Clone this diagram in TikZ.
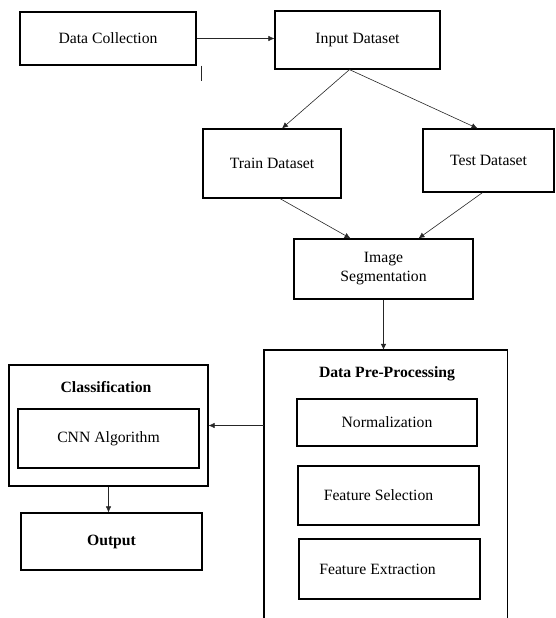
\documentclass[tikz,border=0pt]{standalone}
\usepackage{fontspec}
\setmainfont{Liberation Serif}
\usepackage{tikz}
\usetikzlibrary{calc, arrows.meta}

\tikzset{
  box/.style={draw, line width=1.2pt, inner sep=2pt},
  arr/.style={-{Latex[length=6pt,width=5.5pt]}, line width=0.6pt, draw=black!85},
  ln/.style={line width=0.6pt, draw=black!85}
}

\begin{document}
\begin{tikzpicture}[x=1pt, y=-1pt, font=\fontsize{15.7}{19}\selectfont]
\useasboundingbox (0,0) rectangle (555,618);
% top row
\node [box, minimum width=176, minimum height=53] (collect) at (108,38.5) {Data Collection};
\node [box, minimum width=165, minimum height=58] (input) at (357.5,40) {Input Dataset};
\draw [arr] (collect.east) -- (collect.east -| input.west);
\draw [ln] ([xshift=5]collect.south east) -- ++(0,15);
% split
\node [box, minimum width=138, minimum height=69] (train) at (272,163.5) {Train Dataset};
\node [box, minimum width=131, minimum height=63] (test) at (488.5,160.5) {Test Dataset};
\draw [arr] ([xshift=-8]input.south) -- ([xshift=10]train.north);
\draw [arr] ([xshift=-8]input.south) -- ([xshift=-11]test.north);
% segmentation
\node [box, minimum width=179, minimum height=60, align=center] (seg) at (383.5,269) {Image\\Segmentation};
\draw [arr] ([xshift=8]train.south) -- ([xshift=-33]seg.north);
\draw [arr] ([xshift=-6]test.south) -- ([xshift=35]seg.north);
% pre-processing
\node [minimum width=243, minimum height=280] (prep) at (385.5,490) {};
\draw [line width=1.4pt] (prep.south west) -- (prep.north west) -- (prep.north east) -- (prep.south east);
\node [font=\fontsize{15.7}{19}\selectfont\bfseries] (preptitle) at (387,374) {Data Pre-Processing};
\draw [arr] (seg.south) -- (seg.south |- prep.north);
\node [box, minimum width=180, minimum height=47] (norm) at (387,422.5) {Normalization};
\node [box, minimum width=181, minimum height=59] (fsel) at (388.5,495.5) {Feature Selection\hspace*{20pt}};
\node [box, minimum width=181, minimum height=60] (fext) at (389.5,569) {Feature Extraction\hspace*{24pt}};
% classification
\node [box, minimum width=199, minimum height=121] (cls) at (108.5,425.5) {};
\node [font=\fontsize{15.7}{19}\selectfont\bfseries] (clstitle) at (106,387) {Classification};
\node [box, minimum width=181, minimum height=59] (cnn) at (108.5,438.5) {CNN Algorithm};
\draw [arr] ([yshift=-3]norm.west -| prep.west) -- ([yshift=-3]norm.west -| cls.east);
% output
\node [box, minimum width=181, minimum height=57, font=\fontsize{15.7}{19}\selectfont\bfseries] (out) at (111.5,541.5) {Output};
\draw [arr] (cls.south) -- (cls.south |- out.north);
\end{tikzpicture}
\end{document}
